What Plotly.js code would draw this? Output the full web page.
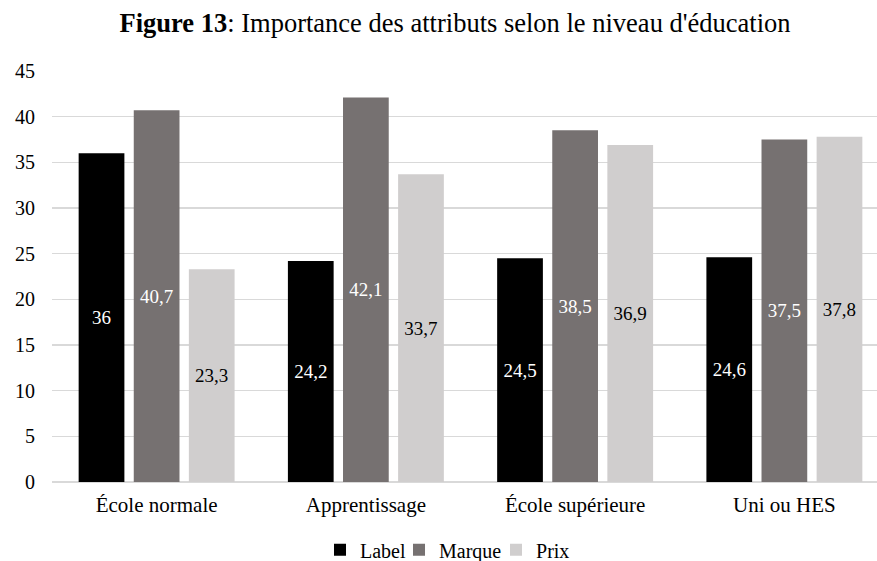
<!DOCTYPE html>
<html>
<head>
<meta charset="utf-8">
<script src="https://cdn.plot.ly/plotly-3.0.1.min.js"></script>
<style>
  html, body { margin: 0; padding: 0; background: #ffffff; overflow: hidden; }
  #chart { width: 920px; height: 561px; }
</style>
</head>
<body>
<div id="chart"></div>
<script>
// Education levels and the importance score of each attribute
const categories = ["École normale", "Apprentissage", "École supérieure", "Uni ou HES"];
const labelValues = [36, 24.2, 24.5, 24.6];
const marqueValues = [40.7, 42.1, 38.5, 37.5];
const prixValues = [23.3, 33.7, 36.9, 37.8];
const seriesNames = ["Label", "Marque", "Prix"];
const yTicks = [0, 5, 10, 15, 20, 25, 30, 35, 40, 45];

const serif = "Liberation Serif, Times New Roman, serif";

// French decimal comma for the value labels
const fmt = v => String(v).replace(".", ",");

function barTrace(name, values, fill, textColor, legendWidth) {
  return {
    type: "bar",
    name: name,
    x: categories,
    y: values,
    text: values.map(fmt),
    textposition: "inside",
    insidetextanchor: "middle",
    textangle: 0,
    textfont: { family: serif, size: 19, color: textColor },
    marker: { color: fill, line: { width: 0 } },
    legendwidth: legendWidth,
    hoverinfo: "skip"
  };
}

const data = [
  barTrace(seriesNames[0], labelValues, "#000000", "#ffffff", 34),
  barTrace(seriesNames[1], marqueValues, "#767171", "#ffffff", 52),
  barTrace(seriesNames[2], prixValues, "#d0cece", "#000000", 40)
];

const layout = {
  width: 920,
  height: 561,
  margin: { l: 52, r: 31, t: 71, b: 79, autoexpand: false },
  paper_bgcolor: "#ffffff",
  plot_bgcolor: "#ffffff",
  font: { family: serif, size: 20, color: "#000000" },
  title: {
    text: "<b>Figure 13</b>: Importance des attributs selon le niveau d'éducation",
    font: { family: serif, size: 26.5, color: "#000000" },
    x: 0.4946,
    xanchor: "center",
    y: 0.96,
    yanchor: "middle"
  },
  barmode: "group",
  bargap: 0.21,
  bargroupgap: 0.17,
  xaxis: {
    type: "category",
    showgrid: false,
    showline: false,
    ticks: "",
    tickfont: { family: serif, size: 21, color: "#000000" },
    ticklabelstandoff: 8
  },
  yaxis: {
    range: [0, 45],
    tickvals: yTicks,
    ticktext: yTicks.map(String),
    showgrid: true,
    gridcolor: "#d9d9d9",
    gridwidth: 1.3,
    zeroline: true,
    zerolinecolor: "#d9d9d9",
    zerolinewidth: 1.3,
    showline: false,
    ticks: "",
    tickfont: { family: serif, size: 20, color: "#000000" },
    ticklabelstandoff: 16
  },
  showlegend: true,
  legend: {
    orientation: "h",
    x: 0.3202,
    xanchor: "left",
    y: -0.165,
    yanchor: "middle",
    font: { family: serif, size: 20, color: "#000000" },
    itemwidth: 30,
    traceorder: "normal"
  }
};

Plotly.newPlot("chart", data, layout, { displayModeBar: false, staticPlot: true });
</script>
</body>
</html>
